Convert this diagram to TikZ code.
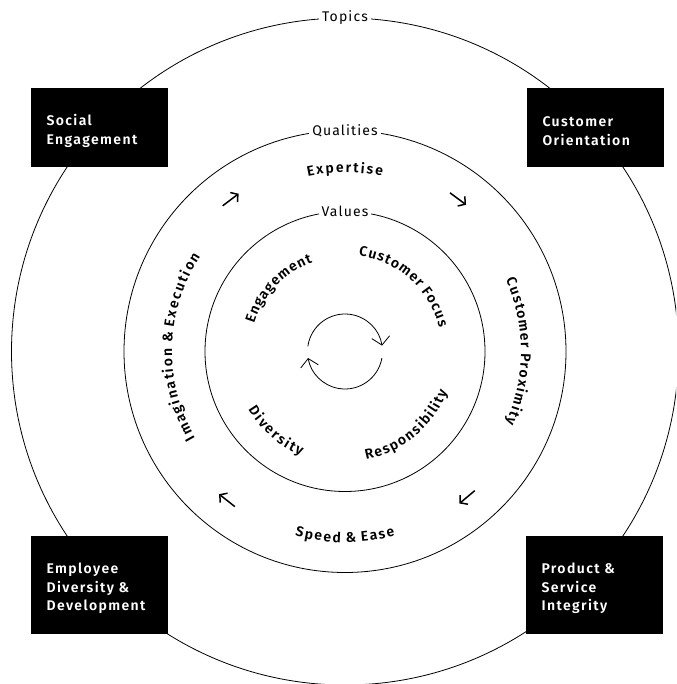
\documentclass[tikz,border=0pt]{standalone}
\usepackage{fontspec}
\setmainfont{Fira Sans}[LetterSpace=8]
\newfontfamily\semib{Fira Sans SemiBold}[LetterSpace=10]
\usetikzlibrary{arrows.meta,decorations.text,calc}
\newcommand\ringfnt{\fontsize{14.01}{16}\selectfont\semib\fontdimen2\font=2pt\relax}
\begin{document}
\begin{tikzpicture}[x=1pt,y=1pt,
  ring/.style={draw=black, line width=0.8pt},
  topicbox/.style={fill=black, draw=none, minimum width=137pt, inner sep=0pt},
  boxtext/.style={text=white, font=\fontsize{14}{18.7}\selectfont\semib, align=left, text width=118pt, inner sep=0pt, anchor=west},
  ringlabel/.style={fill=white, inner xsep=3pt, inner ysep=1pt, font=\fontsize{14}{16}\selectfont},
  flow/.style={line width=1.5pt, -{Straight Barb[length=5pt,width=12pt]}},
  cyclearrow/.style={line width=0.8pt, -{Straight Barb[length=8pt,width=18pt]}},
  curved/.style={decorate, decoration={text along path, text align=fit to path, text={#1}}},
]
\clip (0,0) rectangle (676,-684);
\coordinate (C) at (345,-351.5);
% rings
\draw[ring] (C) circle[radius=333.5pt];
\draw[ring] (C) circle[radius=221pt];
\draw[ring] (C) circle[radius=140pt];
\node[ringlabel] (topics) at ([yshift=333.5pt]C) {Topics};
\node[ringlabel] (qualities) at ([yshift=221pt]C) {Qualities};
\node[ringlabel] (values) at ([yshift=140pt]C) {Values};
% topic boxes
\node[topicbox, minimum height=79pt] (se) at (99.5,-127.5) {};
\node[boxtext] (seT) at ([xshift=15.5pt,yshift=-3.5pt]se.west) {Social\\Engagement};
\node[topicbox, minimum height=79pt] (co) at (595.5,-127.5) {};
\node[boxtext] (coT) at ([xshift=15.5pt,yshift=-3.5pt]co.west) {Customer\\Orientation};
\node[topicbox, minimum height=98pt] (ed) at (99.5,-585) {};
\node[boxtext] (edT) at ([xshift=15.5pt,yshift=-3.5pt]ed.west) {Employee\\Diversity \&\\Development};
\node[topicbox, minimum height=98pt] (ps) at (594.5,-585) {};
\node[boxtext] (psT) at ([xshift=15.5pt,yshift=-3.5pt]ps.west) {Product \&\\Service\\Integrity};
% qualities ring labels
\path[curved={|\ringfnt|Expertise}]
  ([shift={(102:179pt)}]C) arc[start angle=102,end angle=78,radius=179pt];
\path[curved={|\ringfnt|Customer Proximity}]
  ([shift={(24:176pt)}]C) arc[start angle=24,end angle=-24,radius=176pt];
\path[curved={|\ringfnt|Speed {\&} Ease}]
  ([shift={(254.8:191pt)}]C) arc[start angle=254.8,end angle=285.2,radius=191pt];
\path[curved={|\ringfnt|Imagination {\&} Execution}]
  ([shift={(210:173pt)}]C) arc[start angle=210,end angle=146.7,radius=173pt];
% values ring labels
\path[curved={|\ringfnt|Engagement}]
  ([shift={(163:95pt)}]C) arc[start angle=163,end angle=110,radius=95pt];
\path[curved={|\ringfnt|Customer Focus}]
  ([shift={(82:97pt)}]C) arc[start angle=82,end angle=14,radius=97pt];
\path[curved={|\ringfnt|Diversity}]
  ([shift={(211:113pt)}]C) arc[start angle=211,end angle=247,radius=113pt];
\path[curved={|\ringfnt|Responsibility}]
  ([shift={(281:110pt)}]C) arc[start angle=281,end angle=338.5,radius=110pt];
% flow arrows in qualities ring
\foreach \ang/\nm in {127/a, 53.5/b, -50/c, 231.6/d}{
  \coordinate (\nm s) at ($(C)+(\ang:190pt)+(\ang+90:10pt)$);
  \coordinate (\nm e) at ($(C)+(\ang:190pt)+(\ang-90:10pt)$);
  \draw[flow] (\nm s) -- (\nm e);
}
% central cycle
\coordinate (cyA) at ([shift={(172:37.5pt)}]C);
\coordinate (cyB) at ([shift={(-10:37.5pt)}]C);
\draw[cyclearrow] (cyA) arc[start angle=172,end angle=9,radius=37.5pt];
\draw[cyclearrow] (cyB) arc[start angle=-10,end angle=-170,radius=37.5pt];
\end{tikzpicture}
\end{document}
